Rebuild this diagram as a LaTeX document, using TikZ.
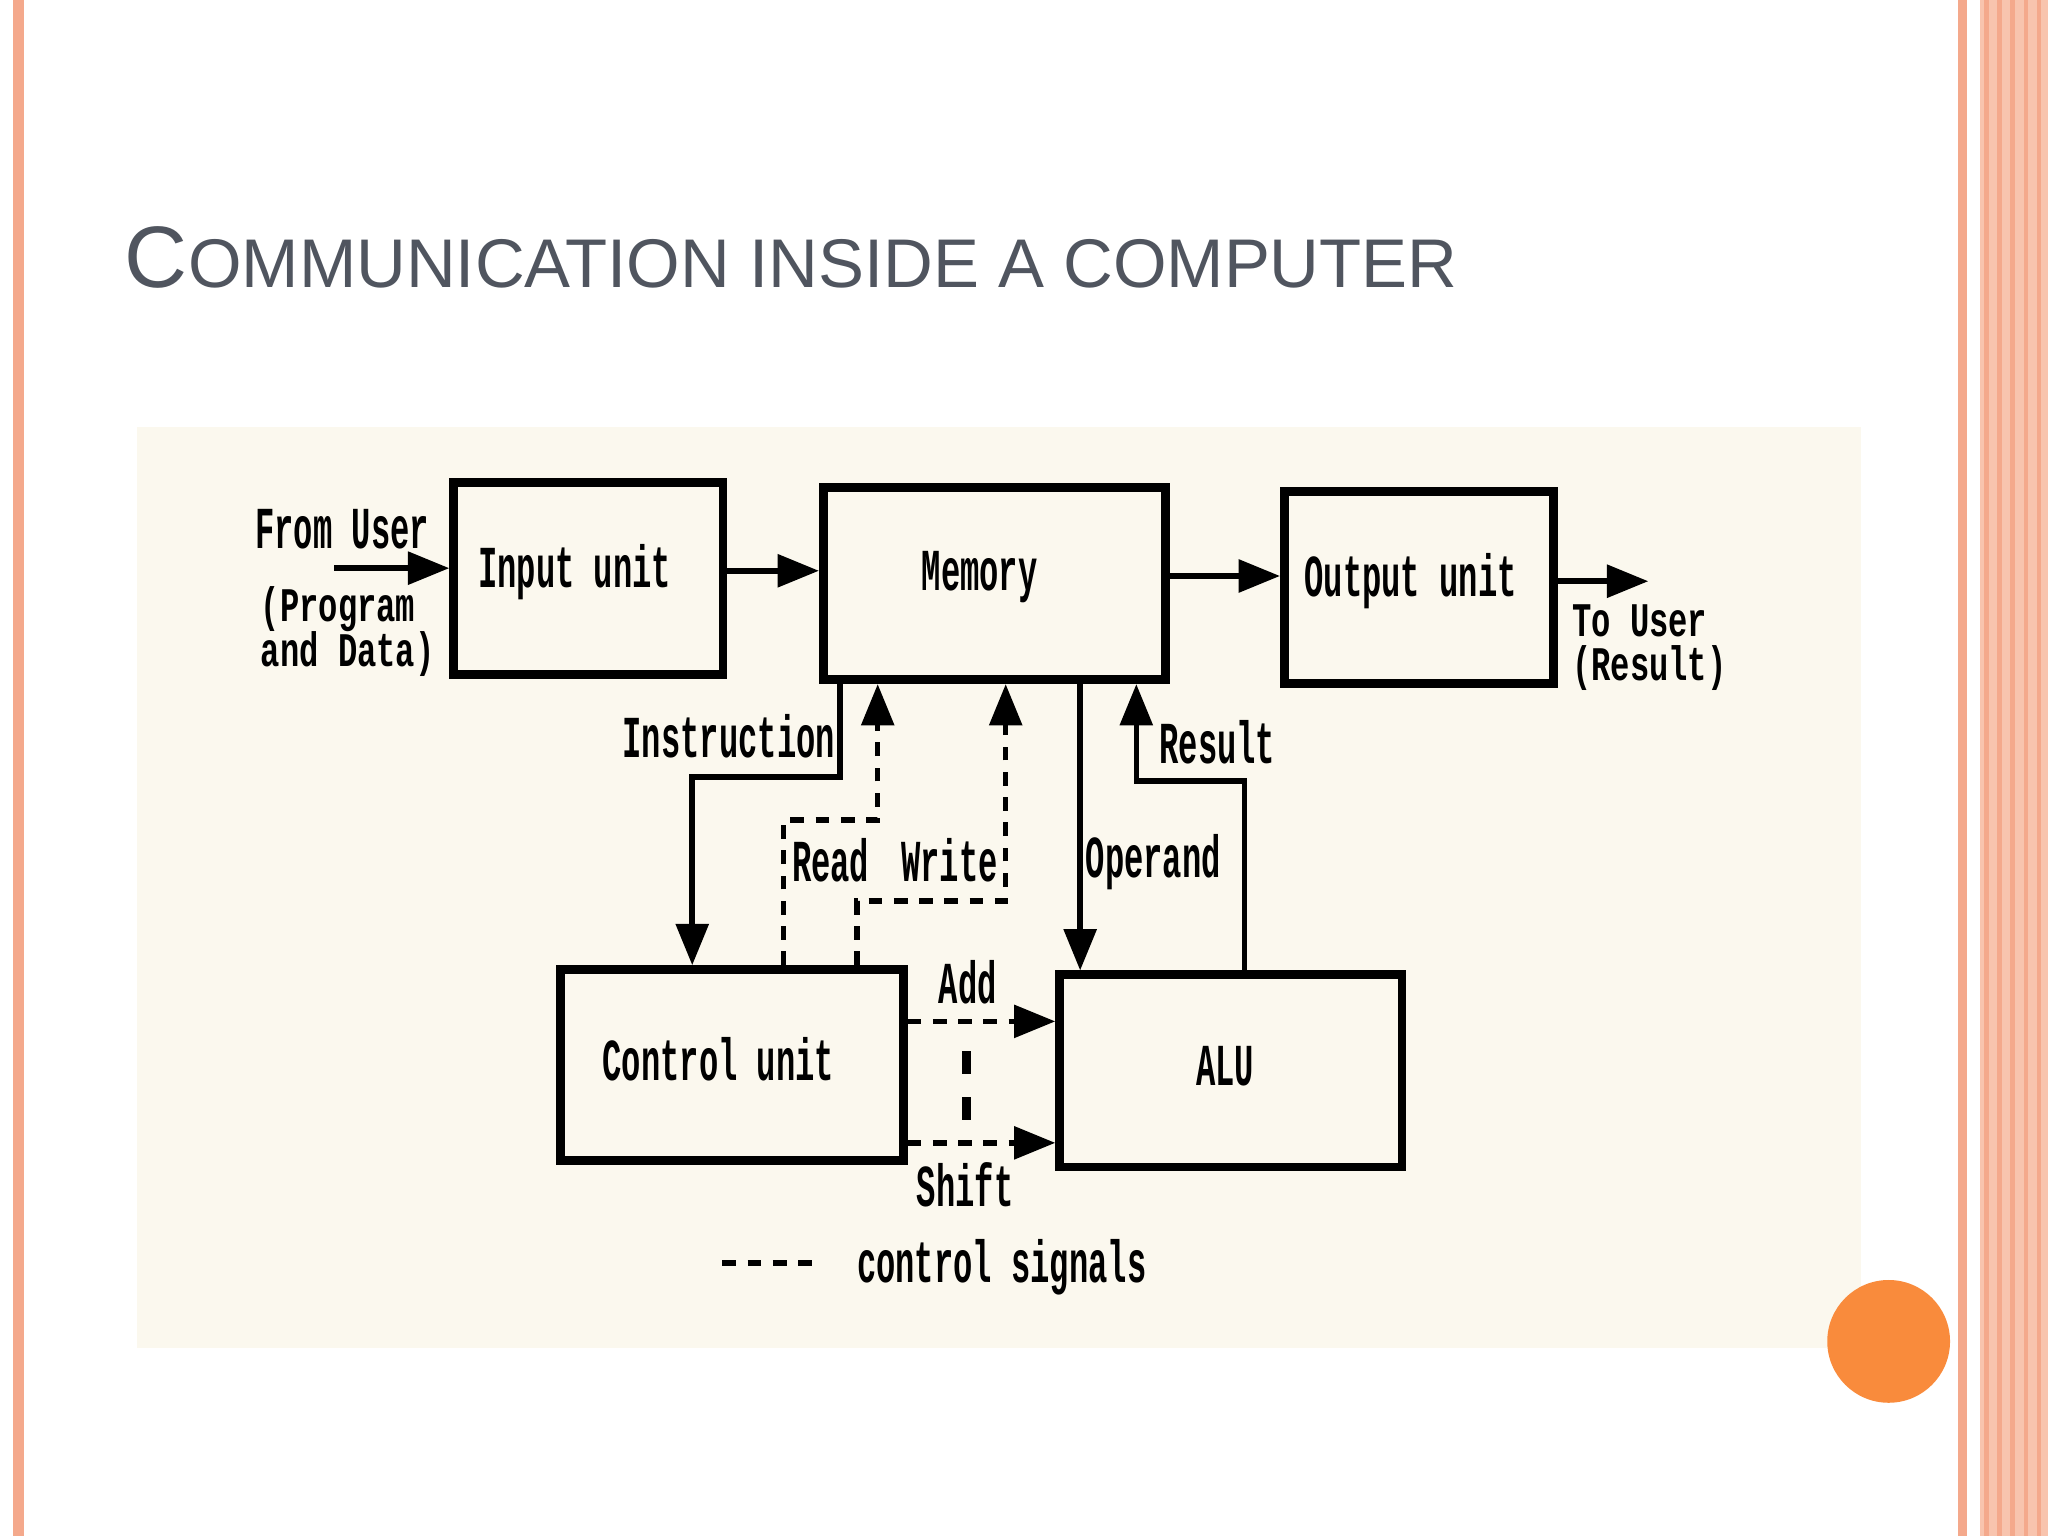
\documentclass[tikz,border=0pt]{standalone}
\usepackage{fontspec}
\setmainfont{Liberation Sans}
\newfontfamily\diag{Liberation Mono}
\usetikzlibrary{arrows.meta}
\definecolor{titlec}{HTML}{50555F}
\definecolor{orng}{HTML}{F98B3C}
\definecolor{salm}{HTML}{F4A98C}
\definecolor{salml}{HTML}{F8C4AE}
\definecolor{cream}{HTML}{FBF8EE}
\newcommand\tall[1]{\scalebox{1}[1.85]{#1}}
\newcommand\midtall[1]{\scalebox{1}[1.5]{#1}}
\begin{document}
\begin{tikzpicture}[x=0.01cm,y=-0.01cm,
  box/.style={draw,line width=1.9pt,inner sep=0pt,anchor=north west},
  wire/.style={line width=1.2pt},
  arr/.style={wire,-{Triangle[length=9pt,width=7pt]}},
  sig/.style={line width=1.2pt,dash pattern=on 3pt off 2.5pt},
  sigarr/.style={sig,-{Triangle[length=9pt,width=7pt]}},
  lbl/.style={font=\diag\bfseries\fontsize{7}{13}\selectfont,align=left,inner sep=0pt}]
\useasboundingbox (0,0) rectangle (1568,1176);
\fill[white] (0,0) rectangle (1568,1176);
% borders
\fill[salm] (10,0) rectangle (18,1176);
\fill[salm] (1499,0) rectangle (1506,1176);
\fill[salml] (1516,0) rectangle (1568,1176);
\foreach \x in {1521,1531,1541,1551,1561} \draw[salm,line width=1pt] (\x,0) -- (\x,1176);
% title
\node[anchor=base west,inner sep=0pt,text=titlec,font=\fontsize{19}{22}\selectfont] (title) at (95,220)
 {C{\fontsize{15}{18}\selectfont OMMUNICATION INSIDE A COMPUTER}};
% image area
\fill[cream] (105,327) rectangle (1425,1032);
% boxes
\node[box,minimum width=2.06cm,minimum height=1.47cm] (in) at (344,366) {};
\node[box,minimum width=2.62cm,minimum height=1.47cm] (mem) at (627,370) {};
\node[box,minimum width=2.06cm,minimum height=1.47cm] (out) at (980,373) {};
\node[box,minimum width=2.62cm,minimum height=1.46cm] (cu) at (426,739) {};
\node[box,minimum width=2.62cm,minimum height=1.47cm] (alu) at (808,743) {};
\node[lbl] (tin) at (440,438) {\tall{Input unit}};
\node[lbl] (tmem) at (750,442) {\tall{Memory}};
\node[lbl] (tout) at (1080,445) {\tall{Output unit}};
\node[lbl] (tcu) at (550,811) {\tall{Control unit}};
\node[lbl] (talu) at (938,816) {\tall{ALU}};
% external labels
\node[lbl] (fu) at (262,405) {\tall{From User}};
\node[lbl,anchor=base west] (pd1) at (199,476) {\midtall{(Program}};
\node[lbl,anchor=base west] (pd2) at (199,510) {\midtall{and Data)}};
\node[lbl,anchor=base west] (tu1) at (1203,487) {\midtall{To User}};
\node[lbl,anchor=base west] (tu2) at (1203,521) {\midtall{(Result)}};
\coordinate (fs) at (256,435);
\coordinate (te) at (1262,445);
\draw[arr] (fs) -- (fs -| in.west);
\draw[arr] (in.east |- 0,437) -- (mem.west |- 0,437);
\draw[arr] (mem.east |- 0,441) -- (out.west |- 0,441);
\draw[arr] (out.east |- te) -- (te);
% instruction
\draw[arr] (mem.south -| 643,0) -- (643,595) -- (530,595) -- (cu.north -| 530,0);
\node[lbl] (tins) at (558,564) {\tall{Instruction}};
% read / write
\draw[sigarr] (cu.north -| 600,0) -- (600,628) -- (672,628) -- (mem.south -| 672,0);
\draw[sigarr] (cu.north -| 656,0) -- (656,690) -- (770,690) -- (mem.south -| 770,0);
\node[lbl] (trd) at (636,659) {\tall{Read}};
\node[lbl] (twr) at (727,659) {\tall{Write}};
% operand / result
\draw[arr] (mem.south -| 827,0) -- (alu.north -| 827,0);
\node[lbl] (top) at (883,660) {\tall{Operand}};
\draw[arr] (alu.north -| 953,0) -- (953,598) -- (870,598) -- (mem.south -| 870,0);
\node[lbl] (tres) at (932,568) {\tall{Result}};
% add / shift
\draw[sigarr] (cu.east |- 0,782) -- (alu.west |- 0,782);
\draw[sigarr] (cu.east |- 0,875) -- (alu.west |- 0,875);
\node[lbl] (tadd) at (741,752) {\tall{Add}};
\node[lbl] (tsh) at (739,907) {\tall{Shift}};
\draw[line width=2pt,dash pattern=on 5pt off 5pt] (740,805) -- (740,860);
% legend
\coordinate (l1) at (553,967);
\coordinate (l2) at (630,967);
\draw[sig] (l1) -- (l2);
\node[lbl] (tleg) at (767,970) {\tall{control signals}};
% orange circle
\fill[orng] (1446,1027) circle (47);
\end{tikzpicture}
\end{document}
